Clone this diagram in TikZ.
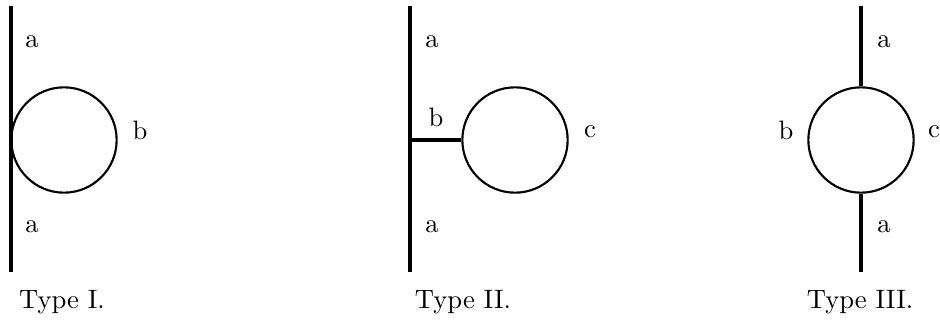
\documentclass[tikz,border=0pt]{standalone}
\usepackage{tikz}
\usetikzlibrary{positioning}

\tikzset{
    loop/.style={draw, circle, line width=0.8pt, minimum size=1.39cm, inner sep=0pt},
    stem/.style={line width=1.2pt},
    lbl/.style={inner sep=0pt}
}

\begin{document}
\begin{tikzpicture}[x=0.0132cm, y=-0.0132cm]
    \useasboundingbox (0,0) rectangle (940,334);

    % Type I
    \coordinate (top1) at (11,6);
    \coordinate (bot1) at (11,272);
    \node[loop] (loop1) at (64,140) {};
    \draw[stem] (top1) -- (bot1);
    \node[lbl] (a1) at (32,42) {a};
    \node[lbl] (b1) at (140,130) {b};
    \node[lbl] (a1b) at (32,227) {a};
    \node[lbl] (type1) at (62,302) {Type I.};

    % Type II
    \coordinate (top2) at (410,6);
    \coordinate (bot2) at (410,272);
    \node[loop] (loop2) at (515,140) {};
    \draw[stem] (top2) -- (bot2);
    \draw[stem] (loop2.west -| top2) -- (loop2.west);
    \node[lbl] (a2) at (432,42) {a};
    \node[lbl] (b2) at (436,117) {b};
    \node[lbl] (c2) at (590,132) {c};
    \node[lbl] (a2b) at (432,227) {a};
    \node[lbl] (type2) at (463,302) {Type II.};

    % Type III
    \coordinate (top3) at (861,6);
    \coordinate (bot3) at (861,272);
    \node[loop] (loop3) at (861,140) {};
    \draw[stem] (top3) -- (loop3.north);
    \draw[stem] (loop3.south) -- (bot3);
    \node[lbl] (a3) at (884,42) {a};
    \node[lbl] (b3) at (786,130) {b};
    \node[lbl] (c3) at (934,132) {c};
    \node[lbl] (a3b) at (884,227) {a};
    \node[lbl] (type3) at (860,302) {Type III.};
\end{tikzpicture}
\end{document}
